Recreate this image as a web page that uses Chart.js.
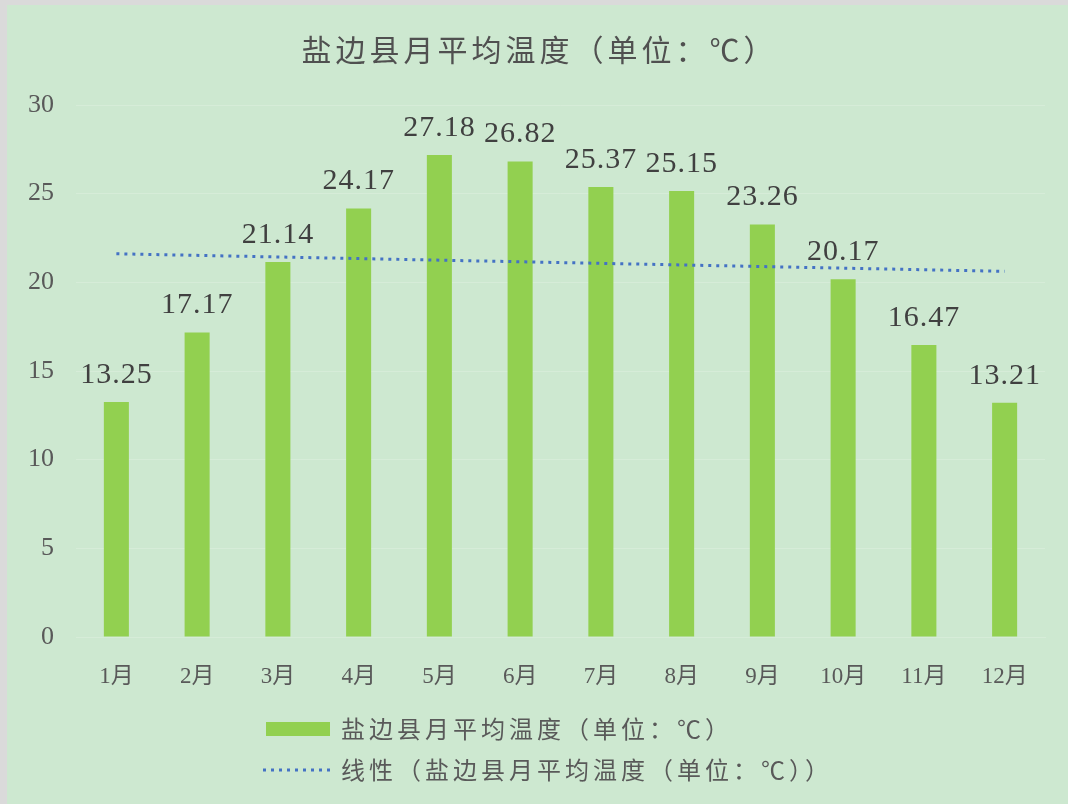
<!DOCTYPE html>
<html>
<head>
<meta charset="utf-8">
<script src="https://cdn.jsdelivr.net/npm/chart.js@4"></script>
<style>
  html, body { margin: 0; padding: 0; background: #dadada; }
  #wrap { position: absolute; left: 7px; top: 5px; width: 1061px; height: 799px; }
</style>
</head>
<body>
<div id="wrap"><canvas id="myChart" width="1061" height="799"></canvas></div>
<script>
var ctx = document.getElementById("myChart");

const titleText = "盐边县月平均温度（单位：℃）";
const months = ["1月", "2月", "3月", "4月", "5月", "6月", "7月", "8月", "9月", "10月", "11月", "12月"];
const temps = [13.25, 17.17, 21.14, 24.17, 27.18, 26.82, 25.37, 25.15, 23.26, 20.17, 16.47, 13.21];
// trend line end points (first and last month only)
const trendEnds = [21.61, null, null, null, null, null, null, null, null, null, null, 20.62];
const seriesName = "盐边县月平均温度（单位：℃）";
const trendName = "线性（盐边县月平均温度（单位：℃））";

const BG = "#cde8d0";
const BAR = "#92d050";
const TREND = "#4472c4";
const TEXT = "#595959";

const plugins = [
    {
        id: "bgAndTitle",
        beforeDraw: (chart) => {
            const c = chart.ctx;
            c.save();
            c.fillStyle = BG;
            c.fillRect(0, 0, chart.width, chart.height);
            c.restore();
        },
        afterDraw: (chart) => {
            const c = chart.ctx;
            c.save();
            // title
            c.fillStyle = "#505050";
            c.font = "30px 'Noto Sans CJK SC'";
            c.letterSpacing = "4px";
            c.textAlign = "center";
            c.textBaseline = "middle";
            c.fillText(titleText, chart.width / 2 + 2, 45);

            // value labels above bars
            const meta = chart.getDatasetMeta(0);
            c.letterSpacing = "1px";
            c.font = "30px 'Liberation Serif'";
            c.fillStyle = "#404040";
            c.textBaseline = "bottom";
            meta.data.forEach((bar, i) => {
                c.fillText(temps[i].toFixed(2), bar.x, bar.y - 12);
            });

            // legend, stacked
            c.textAlign = "left";
            c.textBaseline = "middle";
            c.font = "24px 'Noto Sans CJK SC'";
            c.letterSpacing = "4px";
            c.fillStyle = BAR;
            c.fillRect(259, 717, 64, 14);
            c.fillStyle = TEXT;
            c.fillText(seriesName, 334, 724);

            c.strokeStyle = TREND;
            c.lineWidth = 3;
            c.setLineDash([3, 5]);
            c.beginPath();
            c.moveTo(256, 765);
            c.lineTo(323, 765);
            c.stroke();
            c.setLineDash([]);
            c.fillText(trendName, 334, 765);
            c.restore();
        }
    }
];

const data = {
    labels: months,
    datasets: [
        {
            type: "bar",
            label: seriesName,
            data: temps,
            backgroundColor: BAR,
            categoryPercentage: 1,
            barPercentage: 0.31,
            order: 1
        },
        {
            type: "line",
            label: trendName,
            data: trendEnds,
            spanGaps: true,
            borderColor: TREND,
            borderWidth: 3,
            borderDash: [3, 5],
            pointRadius: 0,
            fill: false,
            order: 0
        }
    ]
};

const options = {
    responsive: false,
    animation: false,
    layout: {
        padding: { top: 100, left: 0, right: 23, bottom: 99 }
    },
    plugins: {
        legend: { display: false },
        title: { display: false },
        tooltip: { enabled: false }
    },
    scales: {
        x: {
            grid: { display: false },
            border: { display: true, color: "#d6ecd8" },
            ticks: {
                color: TEXT,
                padding: 18,
                font: { family: "'Liberation Serif', 'Noto Sans CJK SC'", size: 23 }
            },
            afterFit: (s) => { s.height = 68; }
        },
        y: {
            min: 0,
            max: 30,
            grid: { color: "#d6ecd8", drawTicks: false },
            border: { display: false },
            ticks: {
                stepSize: 5,
                color: TEXT,
                padding: 22,
                font: { family: "'Liberation Serif'", size: 26 }
            },
            afterFit: (s) => { s.width = 69; }
        }
    }
};

var myChart = new Chart(ctx, {
    type: "bar",
    plugins: plugins,
    options: options,
    data: data
});
</script>
</body>
</html>
